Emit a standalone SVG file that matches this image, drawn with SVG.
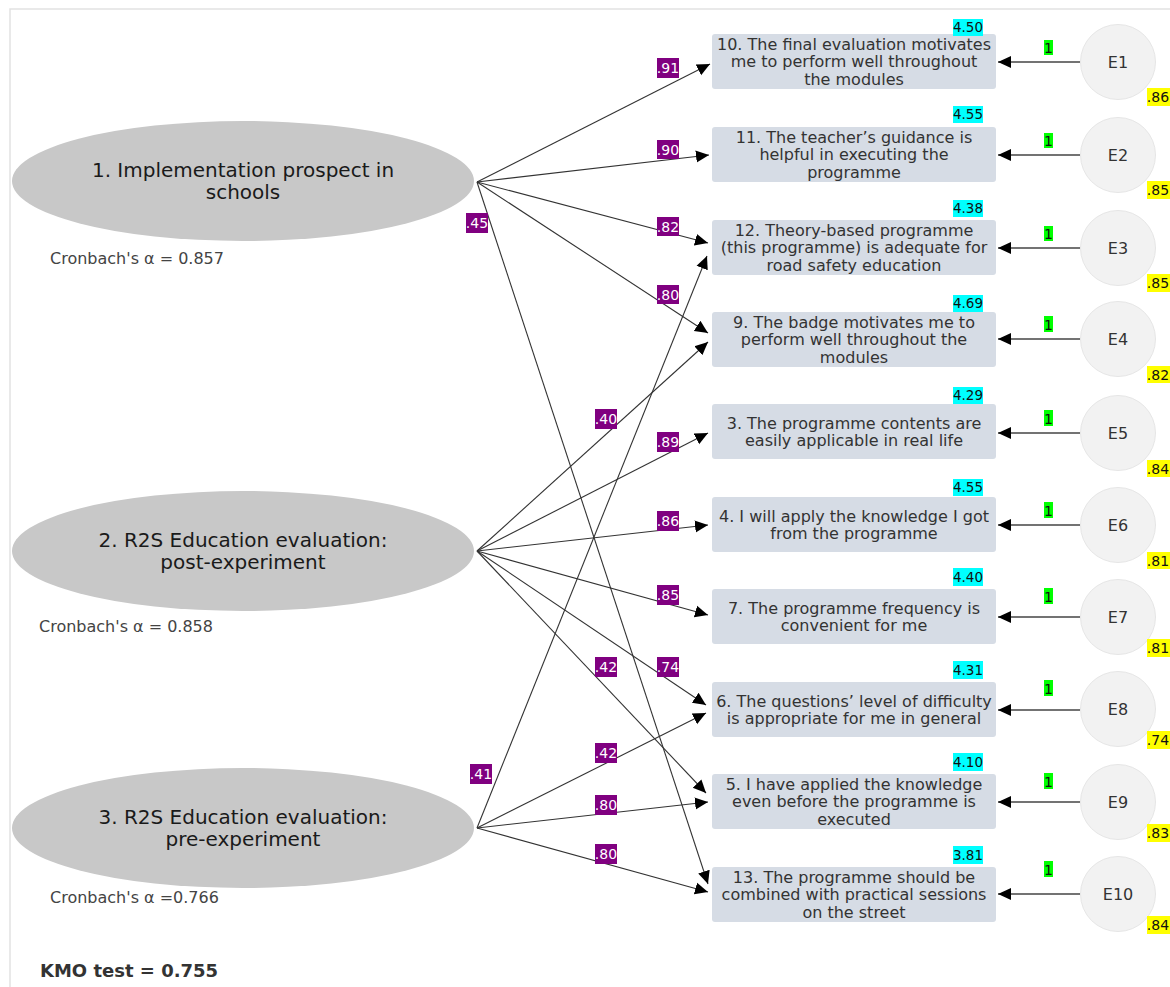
<svg xmlns="http://www.w3.org/2000/svg" width="1170" height="987" viewBox="0 0 1170 987">
  <style>
    .frame { fill: #ffffff; stroke: #e2e2e2; stroke-width: 1.5; }
    .latent ellipse { fill: #c8c8c8; }
    .latent text { font-family: "DejaVu Sans", Verdana, sans-serif; font-size: 20px; fill: #1a1a1a; text-anchor: middle; }
    .alpha { font-family: "DejaVu Sans", Verdana, sans-serif; font-size: 16px; fill: #444444; }
    .kmo { font-family: "DejaVu Sans", Verdana, sans-serif; font-size: 18px; font-weight: bold; fill: #333333; }
    .item rect.box { fill: #d6dce5; }
    .item text { font-family: "DejaVu Sans", Verdana, sans-serif; font-size: 16px; fill: #333333; text-anchor: middle; }
    .item rect.mean { fill: #00ffff; }
    .item text.mean { font-size: 13.5px; fill: #111111; }
    .err circle { fill: #f2f2f2; stroke: #e6e6e6; stroke-width: 1; }
    .err text { font-family: "DejaVu Sans", Verdana, sans-serif; font-size: 16px; fill: #333333; text-anchor: middle; }
    .err rect.one { fill: #00ff00; }
    .err rect.r2 { fill: #ffff00; }
    .err text.tag { font-size: 14px; fill: #111111; }
    .err line { stroke: #444444; stroke-width: 1.5; marker-end: url(#head); }
    .links line { stroke: #333333; stroke-width: 1.1; marker-end: url(#head); }
    .weights rect { fill: #800080; }
    .weights text { font-family: "DejaVu Sans", Verdana, sans-serif; font-size: 14px; fill: #ffffff; text-anchor: middle; }
  </style>
  <defs>
    <marker id="head" markerUnits="userSpaceOnUse" markerWidth="14" markerHeight="14" refX="13" refY="7" orient="auto">
      <path d="M0,1 L13,7 L0,13 z" fill="#000000"/>
    </marker>
  </defs>

  <rect class="frame" x="10" y="9" width="1175" height="995"/>

  <!-- latent factors -->
  <g id="factor1" class="latent">
    <ellipse cx="243" cy="181" rx="231" ry="60"/>
    <text x="243" y="177">1. Implementation prospect in</text>
    <text x="243" y="199">schools</text>
  </g>
  <text class="alpha" x="50" y="264">Cronbach's α = 0.857</text>

  <g id="factor2" class="latent">
    <ellipse cx="243" cy="551" rx="231" ry="60"/>
    <text x="243" y="547">2. R2S Education evaluation:</text>
    <text x="243" y="569">post-experiment</text>
  </g>
  <text class="alpha" x="39" y="632">Cronbach's α = 0.858</text>

  <g id="factor3" class="latent">
    <ellipse cx="243" cy="828" rx="231" ry="60"/>
    <text x="243" y="824">3. R2S Education evaluation:</text>
    <text x="243" y="846">pre-experiment</text>
  </g>
  <text class="alpha" x="50" y="903">Cronbach's α =0.766</text>

  <text class="kmo" x="40" y="977">KMO test = 0.755</text>

  <!-- factor loadings -->
  <g id="connectors">
    <g class="links">
      <line x1="477" y1="182" x2="710" y2="64"/>
      <line x1="477" y1="182" x2="709" y2="155"/>
      <line x1="477" y1="182" x2="708" y2="243"/>
      <line x1="477" y1="182" x2="708" y2="333"/>
      <line x1="477" y1="182" x2="708" y2="884"/>
      <line x1="477" y1="551" x2="708" y2="342"/>
      <line x1="477" y1="551" x2="708" y2="433"/>
      <line x1="477" y1="551" x2="708" y2="525"/>
      <line x1="477" y1="551" x2="708" y2="615"/>
      <line x1="477" y1="551" x2="706" y2="705"/>
      <line x1="477" y1="551" x2="706" y2="793"/>
      <line x1="477" y1="828" x2="707" y2="256"/>
      <line x1="477" y1="828" x2="706" y2="713"/>
      <line x1="477" y1="828" x2="708" y2="802"/>
      <line x1="477" y1="828" x2="708" y2="892"/>
    </g>
    <g class="weights">
      <rect x="657" y="58" width="22" height="20"/><text x="668" y="73">.91</text>
      <rect x="657" y="140" width="22" height="19"/><text x="668" y="155">.90</text>
      <rect x="657" y="217" width="22" height="19"/><text x="668" y="232">.82</text>
      <rect x="657" y="285" width="22" height="19"/><text x="668" y="300">.80</text>
      <rect x="466" y="213" width="22" height="20"/><text x="477" y="228">.45</text>
      <rect x="595" y="409" width="22" height="20"/><text x="606" y="424">.40</text>
      <rect x="657" y="432" width="22" height="20"/><text x="668" y="447">.89</text>
      <rect x="657" y="511" width="22" height="20"/><text x="668" y="526">.86</text>
      <rect x="657" y="585" width="22" height="20"/><text x="668" y="600">.85</text>
      <rect x="657" y="657" width="22" height="20"/><text x="668" y="672">.74</text>
      <rect x="595" y="657" width="22" height="20"/><text x="606" y="672">.42</text>
      <rect x="470" y="764" width="22" height="20"/><text x="481" y="779">.41</text>
      <rect x="595" y="743" width="22" height="20"/><text x="606" y="758">.42</text>
      <rect x="595" y="795" width="22" height="20"/><text x="606" y="810">.80</text>
      <rect x="595" y="844" width="22" height="20"/><text x="606" y="859">.80</text>
    </g>
  </g>

  <!-- observed items -->
  <g id="item10" class="item">
    <rect class="box" x="712" y="34" width="284" height="55" rx="3"/>
    <rect class="mean" x="953" y="19" width="30" height="17"/><text class="mean" x="968" y="32">4.50</text>
    <text x="854" y="49.5">10. The final evaluation motivates</text>
    <text x="854" y="67">me to perform well throughout</text>
    <text x="854" y="84.5">the modules</text>
  </g>
  <g id="item11" class="item">
    <rect class="box" x="712" y="127" width="284" height="55" rx="3"/>
    <rect class="mean" x="953" y="106" width="30" height="17"/><text class="mean" x="968" y="119">4.55</text>
    <text x="854" y="142.5">11. The teacher’s guidance is</text>
    <text x="854" y="160">helpful in executing the</text>
    <text x="854" y="177.5">programme</text>
  </g>
  <g id="item12" class="item">
    <rect class="box" x="712" y="220" width="284" height="55" rx="3"/>
    <rect class="mean" x="953" y="200" width="30" height="17"/><text class="mean" x="968" y="213">4.38</text>
    <text x="854" y="235.5">12. Theory-based programme</text>
    <text x="854" y="253">(this programme) is adequate for</text>
    <text x="854" y="270.5">road safety education</text>
  </g>
  <g id="item9" class="item">
    <rect class="box" x="712" y="312" width="284" height="55" rx="3"/>
    <rect class="mean" x="953" y="295" width="30" height="17"/><text class="mean" x="968" y="308">4.69</text>
    <text x="854" y="327.5">9. The badge motivates me to</text>
    <text x="854" y="345">perform well throughout the</text>
    <text x="854" y="362.5">modules</text>
  </g>
  <g id="item3" class="item">
    <rect class="box" x="712" y="404" width="284" height="55" rx="3"/>
    <rect class="mean" x="953" y="387" width="30" height="17"/><text class="mean" x="968" y="400">4.29</text>
    <text x="854" y="428.5">3. The programme contents are</text>
    <text x="854" y="446">easily applicable in real life</text>
  </g>
  <g id="item4" class="item">
    <rect class="box" x="712" y="497" width="284" height="55" rx="3"/>
    <rect class="mean" x="953" y="479" width="30" height="17"/><text class="mean" x="968" y="492">4.55</text>
    <text x="854" y="521.5">4. I will apply the knowledge I got</text>
    <text x="854" y="539">from the programme</text>
  </g>
  <g id="item7" class="item">
    <rect class="box" x="712" y="589" width="284" height="55" rx="3"/>
    <rect class="mean" x="953" y="568" width="30" height="18"/><text class="mean" x="968" y="582">4.40</text>
    <text x="854" y="613.5">7. The programme frequency is</text>
    <text x="854" y="631">convenient for me</text>
  </g>
  <g id="item6" class="item">
    <rect class="box" x="712" y="682" width="284" height="55" rx="3"/>
    <rect class="mean" x="953" y="661" width="30" height="18"/><text class="mean" x="968" y="675">4.31</text>
    <text x="854" y="706.5">6. The questions’ level of difficulty</text>
    <text x="854" y="724">is appropriate for me in general</text>
  </g>
  <g id="item5" class="item">
    <rect class="box" x="712" y="774" width="284" height="55" rx="3"/>
    <rect class="mean" x="953" y="753" width="30" height="18"/><text class="mean" x="968" y="767">4.10</text>
    <text x="854" y="789.5">5. I have applied the knowledge</text>
    <text x="854" y="807">even before the programme is</text>
    <text x="854" y="824.5">executed</text>
  </g>
  <g id="item13" class="item">
    <rect class="box" x="712" y="867" width="284" height="55" rx="3"/>
    <rect class="mean" x="953" y="846" width="30" height="18"/><text class="mean" x="968" y="860">3.81</text>
    <text x="854" y="882.5">13. The programme should be</text>
    <text x="854" y="900">combined with practical sessions</text>
    <text x="854" y="917.5">on the street</text>
  </g>

  <!-- error terms -->
  <g id="E1" class="err">
    <line x1="1080" y1="62" x2="998" y2="62"/>
    <rect class="one" x="1044" y="40" width="9" height="15"/><text class="tag" x="1048.5" y="53">1</text>
    <circle cx="1118" cy="62" r="37.5"/><text x="1118" y="68">E1</text>
    <rect class="r2" x="1147" y="88" width="25" height="18"/><text class="tag" x="1158" y="102">.86</text>
  </g>
  <g id="E2" class="err">
    <line x1="1080" y1="155" x2="998" y2="155"/>
    <rect class="one" x="1044" y="133" width="9" height="15"/><text class="tag" x="1048.5" y="146">1</text>
    <circle cx="1118" cy="155" r="37.5"/><text x="1118" y="161">E2</text>
    <rect class="r2" x="1147" y="181" width="25" height="18"/><text class="tag" x="1158" y="195">.85</text>
  </g>
  <g id="E3" class="err">
    <line x1="1080" y1="248" x2="998" y2="248"/>
    <rect class="one" x="1044" y="226" width="9" height="15"/><text class="tag" x="1048.5" y="239">1</text>
    <circle cx="1118" cy="248" r="37.5"/><text x="1118" y="254">E3</text>
    <rect class="r2" x="1147" y="274" width="25" height="18"/><text class="tag" x="1158" y="288">.85</text>
  </g>
  <g id="E4" class="err">
    <line x1="1080" y1="339" x2="998" y2="339"/>
    <rect class="one" x="1044" y="316" width="9" height="16"/><text class="tag" x="1048.5" y="330">1</text>
    <circle cx="1118" cy="339" r="37.5"/><text x="1118" y="345">E4</text>
    <rect class="r2" x="1147" y="366" width="25" height="17"/><text class="tag" x="1158" y="380">.82</text>
  </g>
  <g id="E5" class="err">
    <line x1="1080" y1="433" x2="998" y2="433"/>
    <rect class="one" x="1044" y="410" width="9" height="16"/><text class="tag" x="1048.5" y="424">1</text>
    <circle cx="1118" cy="433" r="37.5"/><text x="1118" y="439">E5</text>
    <rect class="r2" x="1147" y="460" width="25" height="17"/><text class="tag" x="1158" y="474">.84</text>
  </g>
  <g id="E6" class="err">
    <line x1="1080" y1="525" x2="998" y2="525"/>
    <rect class="one" x="1044" y="502" width="9" height="16"/><text class="tag" x="1048.5" y="516">1</text>
    <circle cx="1118" cy="525" r="37.5"/><text x="1118" y="531">E6</text>
    <rect class="r2" x="1147" y="552" width="25" height="17"/><text class="tag" x="1158" y="566">.81</text>
  </g>
  <g id="E7" class="err">
    <line x1="1080" y1="617" x2="998" y2="617"/>
    <rect class="one" x="1044" y="588" width="9" height="16"/><text class="tag" x="1048.5" y="602">1</text>
    <circle cx="1118" cy="617" r="37.5"/><text x="1118" y="623">E7</text>
    <rect class="r2" x="1147" y="639" width="25" height="18"/><text class="tag" x="1158" y="653">.81</text>
  </g>
  <g id="E8" class="err">
    <line x1="1080" y1="710" x2="998" y2="710"/>
    <rect class="one" x="1044" y="680" width="9" height="16"/><text class="tag" x="1048.5" y="694">1</text>
    <circle cx="1118" cy="709" r="37.5"/><text x="1118" y="715">E8</text>
    <rect class="r2" x="1147" y="731" width="25" height="18"/><text class="tag" x="1158" y="745">.74</text>
  </g>
  <g id="E9" class="err">
    <line x1="1080" y1="802" x2="998" y2="802"/>
    <rect class="one" x="1044" y="773" width="9" height="16"/><text class="tag" x="1048.5" y="787">1</text>
    <circle cx="1118" cy="802" r="37.5"/><text x="1118" y="808">E9</text>
    <rect class="r2" x="1147" y="824" width="25" height="18"/><text class="tag" x="1158" y="838">.83</text>
  </g>
  <g id="E10" class="err">
    <line x1="1080" y1="894" x2="998" y2="894"/>
    <rect class="one" x="1044" y="861" width="9" height="16"/><text class="tag" x="1048.5" y="875">1</text>
    <circle cx="1118" cy="894" r="37.5"/><text x="1118" y="900">E10</text>
    <rect class="r2" x="1147" y="916" width="25" height="18"/><text class="tag" x="1158" y="930">.84</text>
  </g>
</svg>
